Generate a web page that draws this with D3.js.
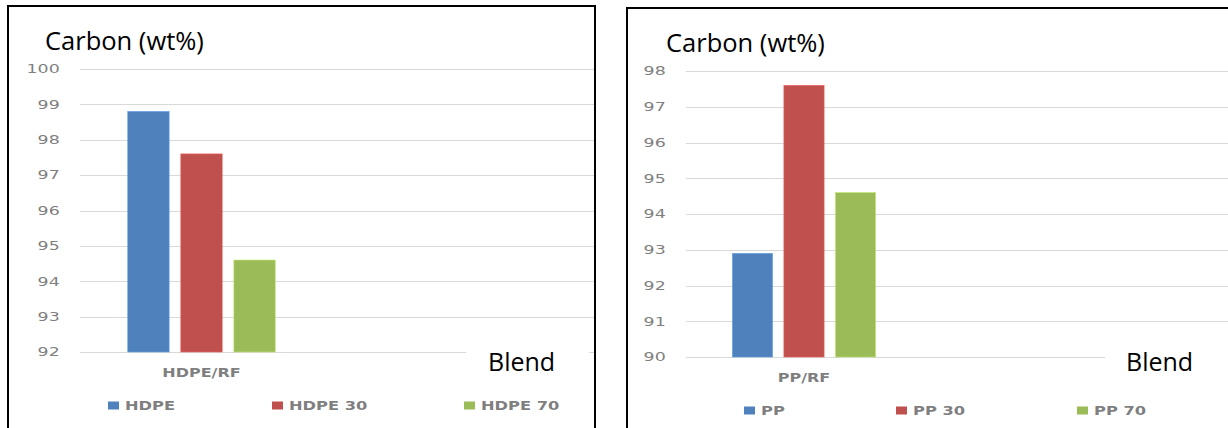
<!DOCTYPE html>
<html>
<head>
<meta charset="utf-8">
<script src="https://cdn.jsdelivr.net/npm/d3@7"></script>
<style>
  body { margin: 0; background: #fff; }
  svg { display: block; }
</style>
</head>
<body>
<svg id="chart" width="1228" height="428"></svg>
<script>
// data
const yTitle = "Carbon (wt%)";
const blendLabel = "Blend";

const hdpeCategories = ["HDPE/RF"];
const hdpeSeries = ["HDPE", "HDPE 30", "HDPE 70"];
const hdpeValues = [98.8, 97.6, 94.6];
const hdpeTicks = [92, 93, 94, 95, 96, 97, 98, 99, 100];

const ppCategories = ["PP/RF"];
const ppSeries = ["PP", "PP 30", "PP 70"];
const ppValues = [92.9, 97.6, 94.6];
const ppTicks = [90, 91, 92, 93, 94, 95, 96, 97, 98];

const colors = ["#4f81bd", "#c0504d", "#9bbb59"];

const svg = d3.select("#chart");

// layout for each panel (screen positions, not data)
let panels = [
    {
        categories: hdpeCategories, series: hdpeSeries, values: hdpeValues, ticks: hdpeTicks,
        frame: [8, 6, 587, 450],
        plotLeft: 80, plotRight: 594, bandRight: 323,
        yTop: 69, yBottom: 352,
        titleX: 45, titleY: 50,
        blendBox: [466, 332, 123, 46], blendX: 488, blendY: 371,
        legendX: [108, 272, 464]
    },
    {
        categories: ppCategories, series: ppSeries, values: ppValues, ticks: ppTicks,
        frame: [627, 8, 620, 450],
        plotLeft: 686, plotRight: 1240, bandRight: 922,
        yTop: 71, yBottom: 357,
        titleX: 666, titleY: 51.5,
        blendBox: [1105, 337, 140, 46], blendX: 1126, blendY: 371,
        legendX: [744, 896, 1077]
    }
];

function drawPanel(p) {
    let g = svg.append("g");

    let y = d3.scaleLinear()
        .domain(d3.extent(p.ticks))
        .range([p.yBottom, p.yTop]);

    let x0 = d3.scaleBand()
        .domain(p.categories)
        .range([p.plotLeft, p.bandRight]);

    let x1 = d3.scaleBand()
        .domain(p.series)
        .range([0, x0.bandwidth()])
        .paddingInner(0.22)
        .paddingOuter(0.9);

    // frame
    g.append("rect")
        .attr("x", p.frame[0]).attr("y", p.frame[1])
        .attr("width", p.frame[2]).attr("height", p.frame[3])
        .attr("fill", "#fff")
        .attr("stroke", "#000")
        .attr("stroke-width", 2);

    // gridlines
    g.selectAll(".grid")
        .data(p.ticks)
        .enter().append("line")
        .attr("class", "grid")
        .attr("x1", p.plotLeft)
        .attr("x2", p.plotRight)
        .attr("y1", d => Math.round(y(d)) + 0.5)
        .attr("y2", d => Math.round(y(d)) + 0.5)
        .attr("stroke", "#d9d9d9")
        .attr("stroke-width", 1.2);

    // y axis labels (stretched wide like the original)
    let axis = g.append("g")
        .attr("transform", "translate(" + p.plotLeft + ",0)")
        .call(d3.axisLeft(y).tickValues(p.ticks).tickSize(0).tickPadding(14));
    axis.select(".domain").remove();
    axis.selectAll("text")
        .attr("transform", "scale(1.45,1)")
        .attr("font-family", "DejaVu Sans")
        .attr("font-size", 12)
        .attr("fill", "#7f7f7f");

    // bars
    let rows = p.series.map((s, i) => ({cat: p.categories[0], key: s, value: p.values[i], color: colors[i]}));
    g.selectAll(".bar")
        .data(rows)
        .enter().append("rect")
        .attr("class", "bar")
        .attr("x", d => x0(d.cat) + x1(d.key))
        .attr("width", x1.bandwidth())
        .attr("y", d => y(d.value))
        .attr("height", d => y.range()[0] - y(d.value))
        .attr("fill", d => d.color)
        .attr("stroke", d => d3.color(d.color).brighter(0.6))
        .attr("stroke-width", 0.6);

    // category label
    g.selectAll(".cat")
        .data(p.categories)
        .enter().append("text")
        .attr("class", "cat")
        .attr("transform", d => "translate(" + (x0(d) + x0.bandwidth() / 2) + "," + (p.yBottom + 25) + ") scale(1.3,1)")
        .attr("text-anchor", "middle")
        .attr("font-family", "DejaVu Sans")
        .attr("font-weight", "bold")
        .attr("font-size", 12.3)
        .attr("fill", "#7f7f7f")
        .text(d => d);

    // legend
    let leg = g.selectAll(".leg")
        .data(rows)
        .enter().append("g")
        .attr("class", "leg")
        .attr("transform", (d, i) => "translate(" + p.legendX[i] + "," + (p.yBottom + 57.5) + ")");
    leg.append("rect")
        .attr("x", 0).attr("y", -8)
        .attr("width", 11).attr("height", 8)
        .attr("fill", d => d.color);
    leg.append("text")
        .attr("transform", "translate(17,0) scale(1.25,1)")
        .attr("font-family", "DejaVu Sans")
        .attr("font-weight", "bold")
        .attr("font-size", 13)
        .attr("fill", "#7f7f7f")
        .text(d => d.key);

    // y title
    g.append("text")
        .attr("x", p.titleX).attr("y", p.titleY)
        .attr("font-family", "Open Sans")
        .attr("font-size", 25.5)
        .attr("fill", "#000")
        .text(yTitle);

    // "Blend" box sitting over the baseline
    g.append("rect")
        .attr("x", p.blendBox[0]).attr("y", p.blendBox[1])
        .attr("width", p.blendBox[2]).attr("height", p.blendBox[3])
        .attr("fill", "#fff");
    g.append("text")
        .attr("x", p.blendX).attr("y", p.blendY)
        .attr("font-family", "Open Sans")
        .attr("font-size", 25)
        .attr("fill", "#000")
        .text(blendLabel);
}

panels.forEach(drawPanel);
</script>
</body>
</html>
